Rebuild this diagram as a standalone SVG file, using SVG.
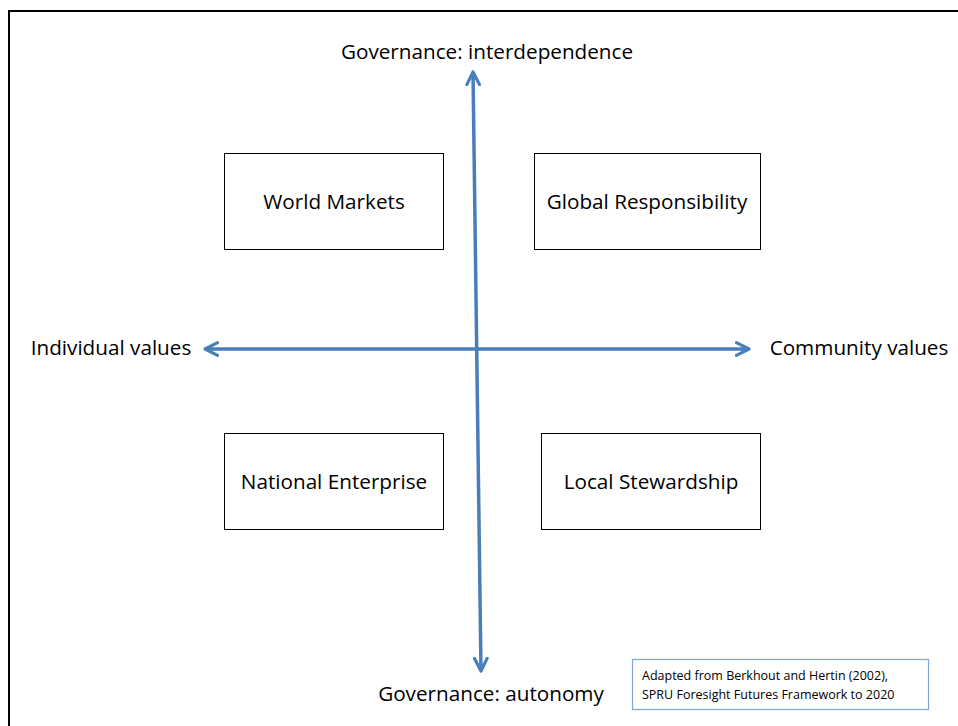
<svg xmlns="http://www.w3.org/2000/svg" width="958" height="726" viewBox="0 0 958 726">
  <style>
    .lbl { font-family: "Open Sans", "Noto Sans", sans-serif; font-size: 20.7px; fill: #000; }
    .box { fill: #fff; stroke: #000; stroke-width: 1; }
    .axis { stroke: #4a7ebb; stroke-width: 3.5; fill: none; marker-start: url(#head); marker-end: url(#head); }
    .note { font-family: "Open Sans", "Noto Sans", sans-serif; font-size: 12.5px; fill: #000; }
  </style>
  <defs>
    <marker id="head" viewBox="0 0 10 10" refX="9" refY="5" markerWidth="4.5" markerHeight="4.5" orient="auto-start-reverse" markerUnits="strokeWidth">
      <path d="M1,1 L9,5 L1,9" fill="none" stroke="#4a7ebb" stroke-width="2" stroke-linecap="round" stroke-linejoin="round"/>
    </marker>
  </defs>
  <rect width="958" height="726" fill="#fff"/>
  <!-- slide frame -->
  <path d="M9,726 L9,11 L958,11" fill="none" stroke="#000" stroke-width="2"/>

  <g id="connectors">
    <line class="axis" x1="473" y1="72" x2="481" y2="671"/>
    <line class="axis" x1="205" y1="349" x2="749" y2="349"/>
  </g>

  <g id="axis-labels">
    <text class="lbl" x="487" y="59" text-anchor="middle">Governance: interdependence</text>
    <text class="lbl" x="491" y="701" text-anchor="middle">Governance: autonomy</text>
    <text class="lbl" x="111" y="355" text-anchor="middle">Individual values</text>
    <text class="lbl" x="859" y="355" text-anchor="middle">Community values</text>
  </g>

  <g id="world-markets">
    <rect class="box" x="224.5" y="153.5" width="219" height="96"/>
    <text class="lbl" x="334" y="209" text-anchor="middle">World Markets</text>
  </g>
  <g id="global-responsibility">
    <rect class="box" x="534.5" y="153.5" width="226" height="96"/>
    <text class="lbl" x="647" y="209" text-anchor="middle">Global Responsibility</text>
  </g>
  <g id="national-enterprise">
    <rect class="box" x="224.5" y="433.5" width="219" height="96"/>
    <text class="lbl" x="334" y="489" text-anchor="middle">National Enterprise</text>
  </g>
  <g id="local-stewardship">
    <rect class="box" x="541.5" y="433.5" width="219" height="96"/>
    <text class="lbl" x="651" y="489" text-anchor="middle">Local Stewardship</text>
  </g>

  <g id="source-note">
    <rect x="632.5" y="659.5" width="296" height="50" fill="#fff" stroke="#7ea6d8" stroke-width="1.2"/>
    <text class="note" x="642" y="680">Adapted from Berkhout and Hertin (2002),</text>
    <text class="note" x="642" y="699">SPRU Foresight Futures Framework to 2020</text>
  </g>
</svg>
